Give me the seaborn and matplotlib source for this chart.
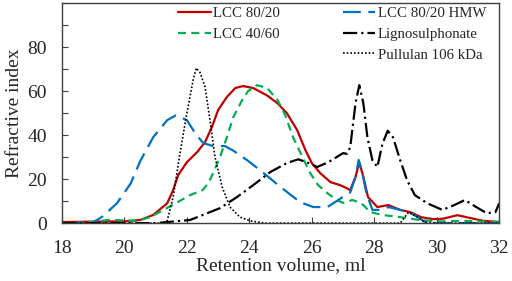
import matplotlib
matplotlib.use("Agg")
import matplotlib.pyplot as plt
from matplotlib.lines import Line2D
from matplotlib.ticker import MultipleLocator
import seaborn as sns

# ---- data ----
red_x = [18, 19.1, 20.0, 20.5, 20.92, 21.37, 21.56, 21.72, 22.0, 22.33, 22.58, 22.8, 23.0, 23.28, 23.55, 23.8,
         24.12, 24.57, 24.9, 25.2, 25.53, 25.8, 26.0, 26.27, 26.6, 26.9, 27.1, 27.23, 27.4, 27.52, 27.65, 27.8,
         28.1, 28.45, 28.83, 29.15, 29.5, 29.9, 30.2, 30.66, 31.08, 31.5, 32]
red_y = [0.5, 0.7, 0.8, 1.4, 3.7, 9, 15, 21.8, 27.7, 32.3, 36.8, 43.6, 51.4, 57.3, 61.4, 62.3,
         61.4, 58, 54.5, 50, 42.3, 33, 27.3, 22.7, 18.6, 17.3, 16, 15, 21, 27.7, 21, 11.8,
         7.3, 8.2, 6, 5, 2.7, 1.8, 2, 3.6, 2.3, 1, 0.5]

green_x = [18, 19.0, 19.5, 20.4, 20.82, 21.24, 21.7, 22.1, 22.5, 22.68, 22.84, 23.06, 23.28, 23.48, 23.77,
           23.96, 24.25, 24.57, 24.9, 25.15, 25.4, 25.7, 25.95, 26.2, 26.5, 26.8, 27.0, 27.3, 27.5, 27.65,
           27.87, 28.3, 28.7, 29.4, 30.1, 30.9, 32]
green_y = [0, 0.5, 1.5, 1, 2.7, 5.9, 9.5, 12.7, 15, 18, 22.7, 30, 39, 48, 55.9,
           60, 62.7, 61.4, 56, 49, 39, 30, 22.7, 17.3, 13.6, 10.5, 9.2, 10.5, 9.5, 8.2,
           5, 3.6, 3, 1.5, 0.8, 1, 0.5]

blue_x = [18, 18.96, 19.3, 19.76, 20.2, 20.5, 20.92, 21.37, 21.65, 22.0, 22.26, 22.52, 22.84, 23.22, 23.48,
          23.93, 24.35, 25.0, 25.63, 26.05, 26.5, 26.85, 27.1, 27.23, 27.4, 27.5, 27.62, 27.75, 27.94, 28.2,
          28.45, 28.83, 29.1, 29.4, 29.63, 30, 32]
blue_y = [0, 0, 3, 9, 18, 28, 39, 46.8, 49, 46.8, 41, 36.4, 35, 35, 33,
          28.6, 24, 16.4, 9.5, 7.3, 7.3, 10.5, 13, 14, 21, 28.7, 22.7, 13.6, 6, 6,
          7.3, 6, 5, 2.7, 0.5, 0, 0]

ligno_x = [18, 21.0, 22.1, 22.65, 23.06, 23.6, 24.1, 24.67, 25.2, 25.57, 25.9, 26.17, 26.53, 26.85, 27.0,
           27.13, 27.23, 27.4, 27.52, 27.65, 27.78, 27.94, 28.1, 28.26, 28.43, 28.6, 28.83, 29.05, 29.3,
           29.7, 30.18, 30.53, 30.9, 31.3, 31.6, 31.88, 32.0]
ligno_y = [0, 0, 1.4, 4.5, 6.8, 11.8, 17, 23.2, 27.3, 29, 27.3, 25.5, 27.7, 30.5, 31.8,
           31.5, 34.5, 54.5, 62.7, 54.5, 39, 28.6, 25.5, 36, 42, 39, 28.6, 19.5, 12.7,
           9, 6, 8, 10.5, 7, 4.5, 5, 9]

pull_x = [18, 21.35, 21.56, 21.78, 22.0, 22.2, 22.3, 22.42, 22.58, 22.74, 22.9, 23.13, 23.38, 23.7, 24.03,
          24.5, 28.83, 29.1, 29.35, 29.6, 30, 32]
pull_y = [0, 0, 11.8, 31.8, 50, 65, 70.5, 68.5, 62, 46.8, 30, 16.4, 7.3, 2.7, 1,
          0, 0, 5, 3, 0.5, 0, 0]

labels = ["LCC 80/20", "LCC 40/60", "LCC 80/20 HMW", "Lignosulphonate", "Pullulan 106 kDa"]
x_ticks = [18, 20, 22, 24, 26, 28, 30, 32]
y_tick_labels = [0, 20, 40, 60, 80]

# ---- style ----
sns.set_style("ticks")
plt.rcParams["font.family"] = ["Liberation Serif", "DejaVu Serif"]

fig = plt.figure(figsize=(5.12, 2.81), dpi=100)
ax = fig.add_axes([0.121, 0.206, 0.854, 0.783])

series = [
    (red_x, red_y, labels[0], "#C00000", 1.6, "-"),
    (green_x, green_y, labels[1], "#00B050", 1.6, (0, (3.6, 2.4))),
    (blue_x, blue_y, labels[2], "#0070C0", 1.6, (0, (8, 3.4))),
    (ligno_x, ligno_y, labels[3], "black", 1.6, (0, (6.4, 1.8, 1.0, 1.8))),
    (pull_x, pull_y, labels[4], "black", 1.2, (0, (1, 1.2))),
]
handles = []
for xs, ys, lab, col, lw, ls in series:
    sns.lineplot(x=xs, y=ys, ax=ax, color=col, linewidth=lw, linestyle=ls,
                 estimator=None, sort=False, label=lab, legend=False)
    handles.append(Line2D([], [], color=col, linewidth=lw, linestyle=ls))

ax.set_xlim(18, 32)
ax.set_ylim(0, 100)
ax.set_xticks(x_ticks)
ax.set_xticklabels([str(v) for v in x_ticks])
ax.yaxis.set_major_locator(MultipleLocator(20))
ax.yaxis.set_minor_locator(MultipleLocator(10))
ax.set_yticks(y_tick_labels)
ax.set_yticklabels([str(v) for v in y_tick_labels])

ax.tick_params(axis="both", which="both", direction="in", length=4, width=0.8, color="#404040",
               labelsize=14, top=False, right=False)
ax.tick_params(axis="y", which="both", pad=11)
ax.tick_params(axis="x", which="both", pad=12)
for sp in ax.spines.values():
    sp.set_color("#404040")
    sp.set_linewidth(1.0)

ax.set_xlabel("Retention volume, ml", fontsize=14, labelpad=0)
ax.set_ylabel("Refractive index", fontsize=14, labelpad=3)

blank = Line2D([], [], color="none")
leg_handles = [handles[0], handles[1], blank, handles[2], handles[3], handles[4]]
leg_labels = [labels[0], labels[1], "", labels[2], labels[3], labels[4]]
ax.legend(leg_handles, leg_labels, ncol=2, frameon=False, fontsize=10.7,
          loc="upper right", bbox_to_anchor=(0.99, 1.025), handlelength=2.2,
          handletextpad=0.15, columnspacing=4.2, labelspacing=0.5, borderaxespad=0.2)

fig.savefig("out.png", dpi=100)
